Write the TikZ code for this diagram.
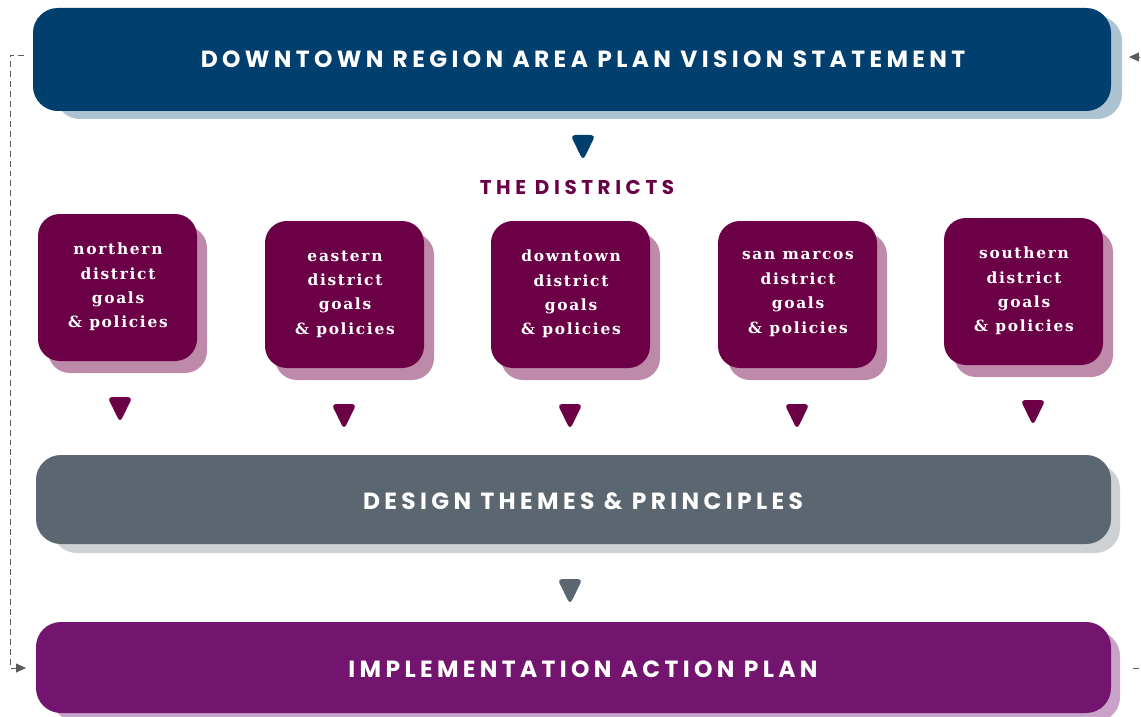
\documentclass[tikz,border=0pt]{standalone}
\usepackage{fontspec}
\usetikzlibrary{arrows.meta}
\newfontfamily\headfont{Poppins}[LetterSpace=18.6]
\newfontfamily\titlefont{Poppins}[LetterSpace=23]
\newfontfamily\distfont{DejaVu Serif}[LetterSpace=11]
\definecolor{visionblue}{HTML}{003F6E}
\definecolor{visionshade}{HTML}{AEC3D2}
\definecolor{distred}{HTML}{6C0047}
\definecolor{distshade}{HTML}{BE8AA9}
\definecolor{themegrey}{HTML}{5B6670}
\definecolor{themeshade}{HTML}{CDD1D4}
\definecolor{planpurple}{HTML}{73146F}
\definecolor{planshade}{HTML}{C8A2C7}
\definecolor{loopgrey}{HTML}{5A5A5A}
\tikzset{
  bar/.style={rounded corners=25, inner sep=0},
  band/.style={font=\headfont\bfseries\fontsize{23.5}{26}\selectfont, text=white},
  distbox/.style={rounded corners=22, fill=distred},
  distshadow/.style={rounded corners=22, fill=distshade},
  disttext/.style={font=\distfont\bfseries\fontsize{15.5}{24.5}\selectfont, text=white, align=center},
  pointer/.style={rounded corners=4.5},
  loop/.style={draw=loopgrey, line width=0.9, dash pattern=on 6 off 4},
  looptip/.style={-{Triangle[length=10, width=9]}}
}
\newcommand{\pointerat}[3]{%
  \fill[pointer, fill=#3] (#1-12.5,#2-12) -- (#1+12.5,#2-12) -- (#1,#2+13.5) -- cycle;}
\newcommand{\district}[5]{%
  \fill[distshadow] (#2+10,#3+12) rectangle (#2+169,#3+159);
  \fill[distbox] (#2,#3) rectangle (#2+159,#3+147);
  \node[disttext] (#1) at (#2+80,#3+73) {#4\\#5\\goals\\\& policies};}
\begin{document}
\begin{tikzpicture}[x=1bp, y=-1bp]
\useasboundingbox (0,0) rectangle (1141,717);
\clip (0,0) rectangle (1141,717);

% vision band
\fill[bar, fill=visionshade] (55,16) rectangle (1122,119);
\fill[bar, fill=visionblue] (33,8) rectangle (1111,111);
\node[band] (vision) at (583,59) {DOWNTOWN REGION AREA PLAN VISION STATEMENT};

\pointerat{583}{147}{visionblue}
\node[font=\titlefont\bfseries\fontsize{20}{22}\selectfont, text=distred] (districts) at (577,187) {THE DISTRICTS};

% district cards
\district{north}{38}{214}{northern}{district}
\district{east}{265}{221}{eastern}{district}
\district{down}{491}{221}{downtown}{district}
\district{sanm}{718}{221}{san marcos}{district}
\district{south}{944}{218}{southern}{district}

\pointerat{120}{409}{distred}
\pointerat{344}{416}{distred}
\pointerat{570}{416}{distred}
\pointerat{797}{416}{distred}
\pointerat{1033}{412}{distred}

% design themes band
\fill[bar, fill=themeshade] (52,464) rectangle (1120,553);
\fill[bar, fill=themegrey] (36,455) rectangle (1111,544);
\node[band] (themes) at (583,501) {DESIGN THEMES \& PRINCIPLES};

\pointerat{570}{591}{themegrey}

% implementation band
\fill[bar, fill=planshade] (52,631) rectangle (1120,722);
\fill[bar, fill=planpurple] (36,622) rectangle (1111,713);
\node[band] (plan) at (583,669) {IMPLEMENTATION ACTION PLAN};

% feedback loop
\coordinate (lt) at (24,55);
\coordinate (lc1) at (10,55);
\coordinate (lc2) at (10,668);
\coordinate (lb) at (26,668);
\draw[loop, looptip] (lt) -- (lc1) -- (lc2) -- (lb);
\coordinate (rb) at (1133,668);
\coordinate (rc1) at (1160,668);
\coordinate (rc2) at (1160,57);
\coordinate (rt) at (1129,57);
\draw[loop, looptip] (rb) -- (rc1) -- (rc2) -- (rt);
\end{tikzpicture}
\end{document}
